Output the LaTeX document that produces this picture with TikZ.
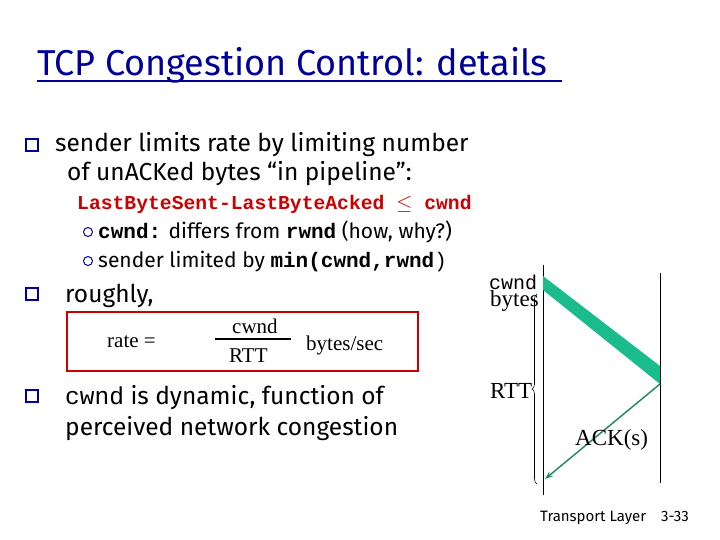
\documentclass[tikz,border=0pt]{standalone}
\usepackage{fontspec}
\setmainfont{Fira Sans}
\newfontfamily\mono{Liberation Mono}
\newfontfamily\tms{Liberation Serif}
\usetikzlibrary{arrows.meta,decorations.pathreplacing}
\definecolor{ttl}{RGB}{0,0,153}
\definecolor{redc}{RGB}{204,0,0}
\definecolor{grn}{RGB}{26,188,140}
\definecolor{grnd}{RGB}{40,140,100}
\begin{document}
\begin{tikzpicture}[x=1pt,y=-1pt,
  body/.style={anchor=base west,inner sep=0,font=\fontsize{24.5}{28}\selectfont},
  sub/.style={anchor=base west,inner sep=0,font=\fontsize{21}{24}\selectfont},
  sq/.style={draw=ttl,fill=white,minimum size=12,inner sep=0,line width=1.2},
  circ/.style={circle,draw=ttl,minimum size=9,inner sep=0,line width=1},
  tm/.style={anchor=base west,inner sep=0,font=\tms\fontsize{21}{24}\selectfont}]
\useasboundingbox (0,0) rectangle (720,540);
\fill[white] (0,0) rectangle (720,540);
\node[anchor=base west,inner sep=0,text=ttl,font=\fontsize{36}{40}\selectfont] (title) at (37,76) {TCP Congestion Control: details};
\draw[ttl,line width=1.5] (37,81) -- (562,81);
\node[sq] (b1) at (32,145) {};
\node[body] (t1) at (55,152) {sender limits rate by limiting number};
\node[body] (t2) at (67,181) {of unACKed bytes “in pipeline”:};
\node[anchor=base west,inner sep=0,text=redc,font=\mono\bfseries\fontsize{19.7}{22}\selectfont] (eq) at (77,210) {LastByteSent-LastByteAcked $\leq$ cwnd};
\node[circ] (c1) at (88,232) {};
\node[sub] (s1) at (98,238) {{\mono\bfseries cwnd:} differs from {\mono\bfseries rwnd} (how, why?)};
\node[circ] (c2) at (88,261) {};
\node[sub] (s2) at (98,267) {sender limited by {\mono\bfseries min(cwnd,rwnd}{\mono)}};
\node[sq] (b2) at (32,294) {};
\node[body] (t3) at (65,302) {roughly,};
\node[draw=redc,line width=2.5,minimum width=351,minimum height=59,inner sep=0] (box) at (242.5,341.5) {};
\node[tm] (rate) at (107,347) {rate =};
\draw[line width=2.5] (215,339) -- (291,339);
\node[tm] (cw) at (232,333) {cwnd};
\node[tm] (rtt) at (229,362) {RTT};
\node[tm] (bps) at (306,350) {bytes/sec};
\node[sq] (b3) at (32,396) {};
\node[body] (t4) at (65,404) {{\mono cwnd} is dynamic, function of};
\node[body] (t5) at (65,435) {perceived network congestion};
% diagram
\coordinate (L0) at (543,265); \coordinate (L1) at (543,495);
\coordinate (R0) at (660,273); \coordinate (R1) at (660,483);
\draw[line width=0.8] (L0) -- (L1);
\draw[line width=0.8] (R0) -- (R1);
\fill[grn] (543,276) -- (660,366) -- (660,384) -- (543,290) -- cycle;
\coordinate (ackS) at (660,384); \coordinate (ackE) at (545,479);
\draw[grnd,line width=1.5,-{Stealth[length=8,width=6]}] (ackS) -- (ackE);
\coordinate (bt) at (537,294); \coordinate (bb) at (537,484);
\draw[line width=0.6,decorate,decoration={brace,amplitude=5}] (bb) -- (bt);
\node[anchor=base west,inner sep=0,font=\mono\fontsize{20}{22}\selectfont] (lc) at (489,289) {cwnd};
\node[anchor=base west,inner sep=0,font=\tms\fontsize{23}{25}\selectfont] (lb) at (490,306) {bytes};
\node[anchor=base west,inner sep=0,font=\tms\fontsize{23}{25}\selectfont] (lr) at (490,398) {RTT};
\node[anchor=base west,inner sep=0,font=\tms\fontsize{23}{25}\selectfont] (la) at (575,445) {ACK(s)};
\node[anchor=base west,inner sep=0,font=\fontsize{15}{17}\selectfont] (ft) at (540,521) {Transport Layer\quad 3-33};
\end{tikzpicture}
\end{document}
